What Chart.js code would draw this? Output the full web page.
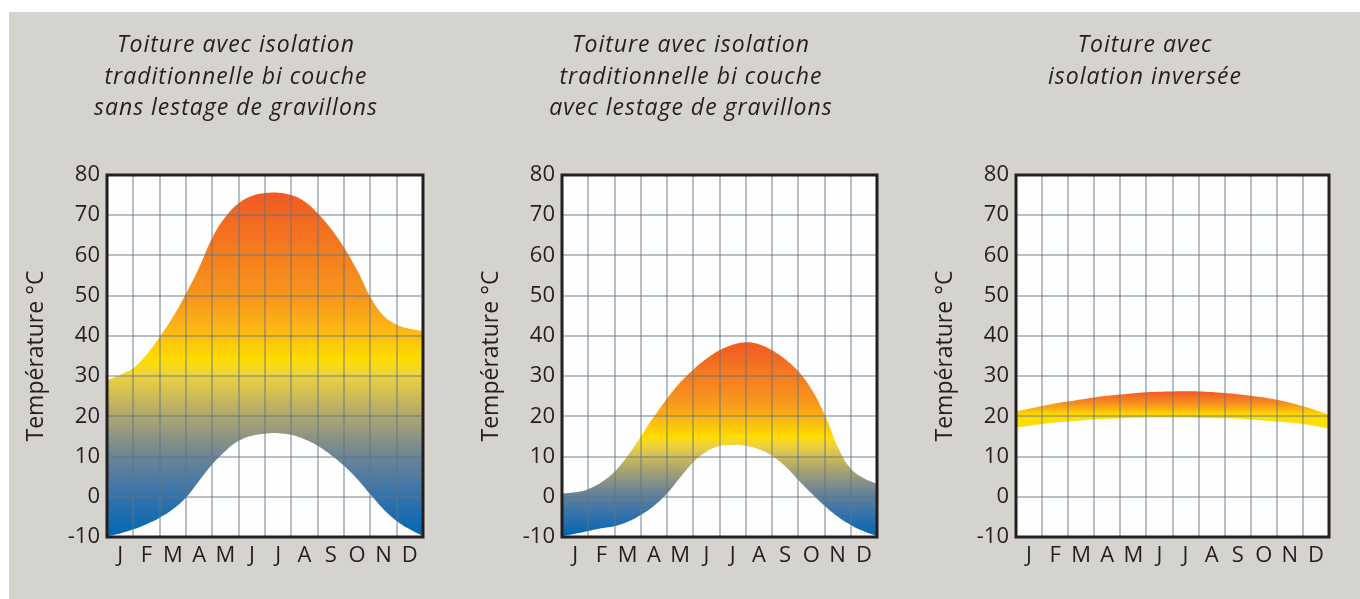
<!DOCTYPE html>
<html lang="fr">
<head>
<meta charset="UTF-8">
<title>Température des toitures</title>
<script src="https://cdn.jsdelivr.net/npm/chart.js@4.4.0/dist/chart.umd.min.js"></script>
<style>
  html, body { margin: 0; padding: 0; background: #fff; }
  body { width: 1360px; height: 599px; position: relative; overflow: hidden; }
  #bg { position: absolute; left: 9px; top: 12px; right: 0; bottom: 0; background: #d4d3ce; }
  .plot { position: absolute; top: 175px; height: 362px; background: #fefefe; }
  .panel { position: absolute; top: 0; }
</style>
</head>
<body>
<div id="bg"></div>
<div class="plot" style="left:107px; width:316px"></div>
<div class="plot" style="left:562px; width:315px"></div>
<div class="plot" style="left:1016px; width:313px"></div>
<canvas id="c1" class="panel" width="454" height="599" style="left:0px"></canvas>
<canvas id="c2" class="panel" width="454" height="599" style="left:455px"></canvas>
<canvas id="c3" class="panel" width="454" height="599" style="left:909px"></canvas>
<script>
// month labels, drawn in the middle of each column
const months = ['J', 'F', 'M', 'A', 'M', 'J', 'J', 'A', 'S', 'O', 'N', 'D'];
// x positions (column boundaries = 0..12)
const xHalf = [0, 0.5, 1, 1.5, 2, 2.5, 3, 3.5, 4, 4.5, 5, 5.5, 6, 6.5, 7, 7.5, 8, 8.5, 9, 9.5, 10, 10.5, 11, 11.5, 12];
const xFull = [0, 1, 2, 3, 4, 5, 6, 7, 8, 9, 10, 11, 12];
const yMin = -10, yMax = 80, yStep = 10;
const yTitle = 'Température °C';

// 1 : isolation traditionnelle sans gravillons
const title1 = ['Toiture avec isolation', 'traditionnelle bi couche', 'sans lestage de gravillons'];
const upper1 = [29, 30.3, 32, 35.3, 39.7, 44.7, 50.5, 57, 64.4, 69.6, 73, 74.8, 75.5, 75.6, 75.0, 73.4, 70.5, 66.7, 62, 56.3, 49.7, 45, 42.8, 41.8, 41.2];
const lower1 = [-9.8, -9.1, -8.1, -6.8, -5.2, -3.1, -0.2, 4, 8.1, 11.4, 13.9, 15.2, 15.7, 15.8, 15.4, 14.3, 12.7, 10.4, 7.7, 4.4, 0.6, -3.1, -6, -8.1, -9.8];

// 2 : isolation traditionnelle avec gravillons
const title2 = ['Toiture avec isolation', 'traditionnelle bi couche', 'avec lestage de gravillons'];
const upper2 = [0.8, 1.1, 1.9, 3.6, 6.2, 10.2, 15, 19.9, 24.4, 28.4, 31.6, 34.3, 36.4, 37.8, 38.4, 37.9, 36.4, 34.2, 31.2, 26.8, 20.5, 12.5, 7, 4.6, 3.2];
const lower2 = [-9.8, -9.2, -8.5, -7.8, -7.3, -6.2, -4.5, -2.3, 0.8, 4.8, 8.6, 11.2, 12.6, 12.9, 12.7, 11.8, 10.2, 7.6, 4.2, 0.9, -2.2, -4.9, -7, -8.6, -9.8];

// 3 : isolation inversée
const title3 = ['Toiture avec', 'isolation inversée'];
const upper3 = [21.2, 22.6, 23.7, 24.7, 25.4, 26, 26.2, 26.2, 25.8, 25.1, 24.1, 22.5, 20.4];
const lower3 = [17.2, 18.1, 18.7, 19.2, 19.5, 19.7, 19.7, 19.6, 19.5, 19.2, 18.7, 18.1, 17];

const ink = '#231f20';
const gridColor = 'rgba(95,115,130,0.45)';
const warmStops = [[0, '#f15a24'], [0.16, '#f47a20'], [0.3, '#f7961d'], [0.39, '#fbb316'], [0.485, '#ffdc00'], [0.53, '#efd33e'], [0.65, '#aea66f'], [0.77, '#6b8496'], [0.88, '#3873ab'], [1, '#0067b2']];
const invStops = [[0, '#f15a24'], [0.35, '#f7941d'], [0.64, '#ffdd00'], [1, '#ffdd00']];

function pts(xs, ys) {
  return xs.map((x, i) => ({ x: x, y: ys[i] }));
}

function bandFill(lower, upper, stops) {
  return function (context) {
    const chart = context.chart;
    if (!chart.chartArea) return null;
    const y = chart.scales.y;
    const top = y.getPixelForValue(Math.max(...upper));
    const bot = y.getPixelForValue(Math.min(...lower));
    const g = chart.ctx.createLinearGradient(0, top, 0, bot);
    stops.forEach(s => g.addColorStop(s[0], s[1]));
    return g;
  };
}

// white plot area (painted behind), black frame, and the panel heading
const panelDecor = {
  id: 'panelDecor',
  afterDraw(chart, args, opts) {
    const ctx = chart.ctx;
    const a = chart.chartArea;
    ctx.save();
    ctx.globalCompositeOperation = 'destination-over';
    ctx.fillStyle = 'rgb(254,254,254)';
    ctx.fillRect(a.left, a.top, a.right - a.left, a.bottom - a.top);
    ctx.globalCompositeOperation = 'source-over';
    ctx.strokeStyle = ink;
    ctx.lineWidth = 3;
    ctx.strokeRect(a.left, a.top, a.right - a.left, a.bottom - a.top);
    ctx.fillStyle = ink;
    ctx.font = 'italic 23px "Open Sans"';
    ctx.letterSpacing = '1px';
    ctx.textAlign = 'center';
    ctx.textBaseline = 'alphabetic';
    opts.lines.forEach((t, i) => ctx.fillText(t, opts.x, 52 + i * 31.5));
    ctx.restore();
  }
};

function makePanel(id, xs, lower, upper, stops, lines, padRight) {
  new Chart(document.getElementById(id), {
    type: 'line',
    data: {
      datasets: [
        { data: pts(xs, lower), borderColor: 'transparent', borderWidth: 0, pointRadius: 0, fill: false, tension: 0.4 },
        { data: pts(xs, upper), borderColor: 'transparent', borderWidth: 0, pointRadius: 0, fill: '-1', tension: 0.4,
          backgroundColor: bandFill(lower, upper, stops) }
      ]
    },
    options: {
      responsive: false,
      animation: false,
      events: [],
      layout: { padding: { left: 0, right: padRight, top: 175, bottom: 12 } },
      plugins: {
        legend: { display: false },
        tooltip: { enabled: false },
        panelDecor: { lines: lines, x: 236 }
      },
      scales: {
        x: {
          type: 'linear',
          min: 0, max: 12,
          afterBuildTicks: s => { s.ticks = xHalf.map(v => ({ value: v })); },
          afterFit: s => { s.height = 50; },
          grid: { z: 1, lineWidth: 2, drawTicks: false, color: c => (c.tick && c.tick.value % 1 === 0) ? gridColor : 'transparent' },
          border: { display: false },
          ticks: {
            autoSkip: false, maxRotation: 0, minRotation: 0, padding: 6,
            color: ink, font: { family: 'Open Sans', size: 22 },
            callback: v => (v % 1 === 0.5 ? months[Math.floor(v)] : '')
          }
        },
        y: {
          min: yMin, max: yMax,
          afterFit: s => { s.width = 107; },
          grid: { z: 1, lineWidth: 2, drawTicks: false, color: gridColor },
          border: { display: false },
          ticks: { stepSize: yStep, maxTicksLimit: 20, padding: 7, color: ink, font: { family: 'Open Sans', size: 22 } },
          title: { display: true, text: yTitle, color: ink, font: { family: 'Open Sans', size: 23 }, padding: { top: 23, bottom: 0 } }
        }
      }
    },
    plugins: [panelDecor]
  });
}

makePanel('c1', xHalf, lower1, upper1, warmStops, title1, 31);
makePanel('c2', xHalf, lower2, upper2, warmStops, title2, 32);
makePanel('c3', xFull, lower3, upper3, invStops, title3, 34);
</script>
</body>
</html>
